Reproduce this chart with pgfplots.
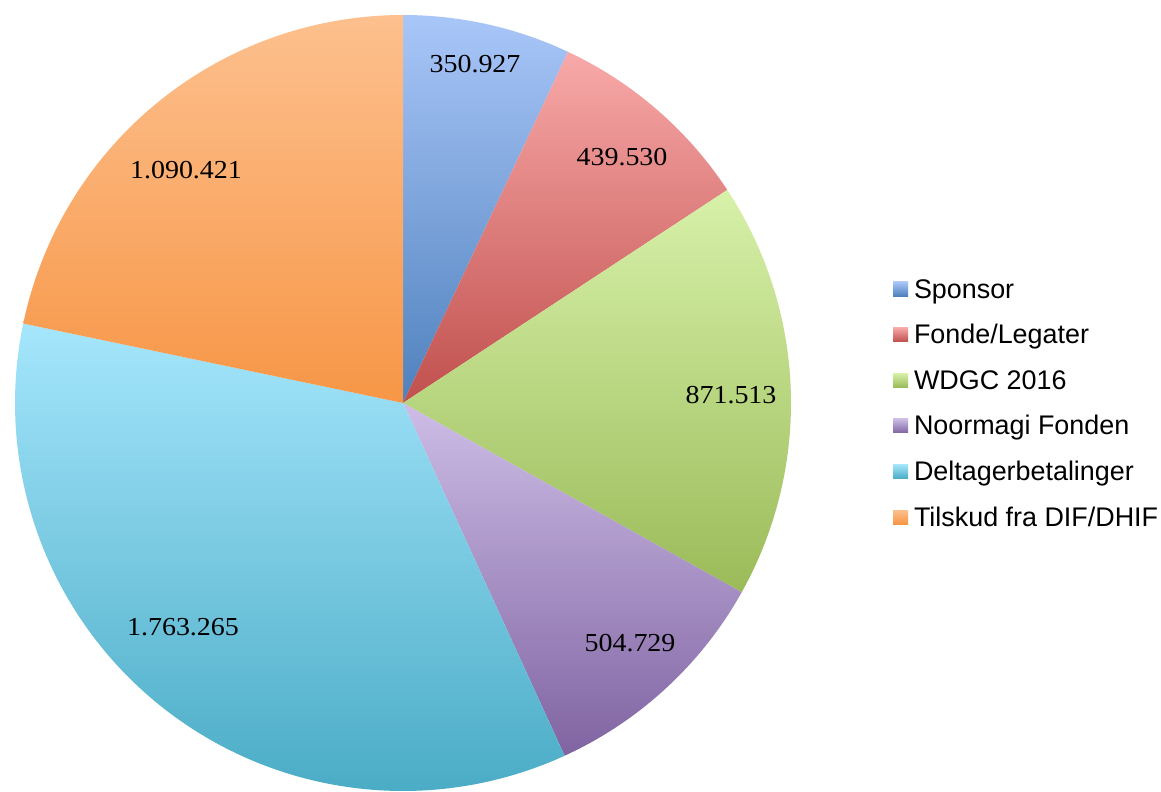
\documentclass[border=0pt]{standalone}
\usepackage{pgfplots}
\pgfplotsset{compat=1.18}
\usepackage{fontspec}
\setmainfont{Liberation Sans}
\newfontfamily\labfont[FakeStretch=1.08]{Liberation Serif}

% slice colours: light top, darker bottom
\definecolor{sponT}{HTML}{A9C6F8}\definecolor{sponB}{HTML}{4F81BD}
\definecolor{fondT}{HTML}{F8A9A9}\definecolor{fondB}{HTML}{C0504D}
\definecolor{wdgcT}{HTML}{D7F1A9}\definecolor{wdgcB}{HTML}{9BBB59}
\definecolor{noorT}{HTML}{CDBDE6}\definecolor{noorB}{HTML}{8064A2}
\definecolor{deltT}{HTML}{A5E6FC}\definecolor{deltB}{HTML}{4BACC6}
\definecolor{tilsT}{HTML}{FDC08E}\definecolor{tilsB}{HTML}{F79646}

% values in thousands
\def\vA{350.927}  % Sponsor
\def\vB{439.530}  % Fonde/Legater
\def\vC{871.513}  % WDGC 2016
\def\vD{504.729}  % Noormagi Fonden
\def\vE{1763.265} % Deltagerbetalinger
\def\vF{1090.421} % Tilskud fra DIF/DHIF
\pgfmathsetmacro\T{\vA+\vB+\vC+\vD+\vE+\vF}
\pgfmathsetmacro\aA{90}
\pgfmathsetmacro\aB{\aA-360*(\vA/\T)}
\pgfmathsetmacro\aC{\aB-360*(\vB/\T)}
\pgfmathsetmacro\aD{\aC-360*(\vC/\T)}
\pgfmathsetmacro\aE{\aD-360*(\vD/\T)}
\pgfmathsetmacro\aF{\aE-360*(\vE/\T)}
\pgfmathsetmacro\aG{-270}

\def\cx{403}\def\cy{388}\def\R{388}

\begin{document}
\begin{tikzpicture}
\begin{axis}[
    x=0.5bp, y=0.5bp,
    xmin=0, xmax=1161, ymin=0, ymax=791,
    hide axis,
    legend style={at={(axis cs:893,513)}, anchor=north west,
        draw=none, fill=none, inner sep=0pt, outer sep=0pt,
        row sep=9.8bp, column sep=3bp,
        font=\fontsize{13.5}{16}\selectfont,
        nodes={inner sep=0pt, text height=10bp, text depth=3bp}},
    legend cell align=left,
    legend image code/.code={\fill[#1] (0bp,-2.5bp) rectangle (7.5bp,4.5bp);},
    every axis plot/.append style={draw=none, samples=150, variable=\t},
]
\addplot[top color=sponT, bottom color=sponB, domain=\aB:\aA]
    ({\cx+\R*cos(\t)},{\cy+\R*sin(\t)}) -- (axis cs:\cx,\cy) -- cycle;
\addlegendentry{Sponsor}
\addplot[top color=fondT, bottom color=fondB, domain=\aC:\aB]
    ({\cx+\R*cos(\t)},{\cy+\R*sin(\t)}) -- (axis cs:\cx,\cy) -- cycle;
\addlegendentry{Fonde/Legater}
\addplot[top color=wdgcT, bottom color=wdgcB, domain=\aD:\aC]
    ({\cx+\R*cos(\t)},{\cy+\R*sin(\t)}) -- (axis cs:\cx,\cy) -- cycle;
\addlegendentry{WDGC 2016}
\addplot[top color=noorT, bottom color=noorB, domain=\aE:\aD]
    ({\cx+\R*cos(\t)},{\cy+\R*sin(\t)}) -- (axis cs:\cx,\cy) -- cycle;
\addlegendentry{Noormagi Fonden}
\addplot[top color=deltT, bottom color=deltB, domain=\aF:\aE]
    ({\cx+\R*cos(\t)},{\cy+\R*sin(\t)}) -- (axis cs:\cx,\cy) -- cycle;
\addlegendentry{Deltagerbetalinger}
\addplot[top color=tilsT, bottom color=tilsB, domain=\aG:\aF]
    ({\cx+\R*cos(\t)},{\cy+\R*sin(\t)}) -- (axis cs:\cx,\cy) -- cycle;
\addlegendentry{Tilskud fra DIF/DHIF}

% value labels
\begin{scope}[every node/.style={font=\labfont\fontsize{13}{15.5}\selectfont, inner sep=0pt}]
\node at (axis cs:475,727) {350.927};
\node at (axis cs:622,634) {439.530};
\node at (axis cs:731,396) {871.513};
\node at (axis cs:630,148) {504.729};
\node at (axis cs:183,164) {1.763.265};
\node at (axis cs:186,621) {1.090.421};
\end{scope}

\coordinate (ll) at (rel axis cs:0,0);
\coordinate (ur) at (rel axis cs:1,1);
\end{axis}
\pgfresetboundingbox
\path[use as bounding box] (ll) rectangle (ur);
\end{tikzpicture}
\end{document}
